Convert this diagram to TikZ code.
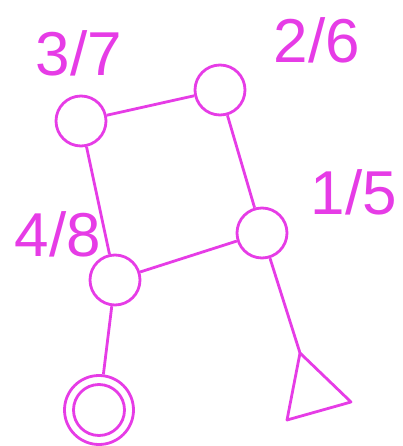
\documentclass[tikz,border=0pt]{standalone}
\usepackage{fontspec}
\setmainfont{Liberation Sans}
\definecolor{mag}{RGB}{230,60,230}
\begin{document}
\begin{tikzpicture}[x=1pt,y=-1pt,
  st/.style={circle,draw=mag,line width=2.8pt,minimum size=50pt,inner sep=0pt},
  ln/.style={draw=mag,line width=2.8pt},
  lbl/.style={text=mag,font=\fontsize{62}{62}\selectfont,inner sep=0pt}]
\useasboundingbox (0,0) rectangle (402,446);
\node[st] (s37) at (81,121) {};
\node[st] (s26) at (220,90) {};
\node[st] (s15) at (262,233) {};
\node[st] (s48) at (115,280) {};
\node[circle,draw=mag,line width=2.8pt,minimum size=69pt,inner sep=0pt] (fin) at (99,410) {};
\node[circle,draw=mag,line width=2.8pt,minimum size=51pt,inner sep=0pt] (fin2) at (99,410) {};
\coordinate (tt) at (300,353);
\coordinate (tr) at (351,402);
\coordinate (tb) at (287,420);
\draw[ln,line join=round] (tt) -- (tr) -- (tb) -- cycle;
\draw[ln] (s37) -- (s26);
\draw[ln] (s26) -- (s15);
\draw[ln] (s15) -- (s48);
\draw[ln] (s37) -- (s48);
\draw[ln] (s48) -- (fin);
\draw[ln] (s15) -- (tt);
\node[lbl] (l37) at (79,53) {3/7};
\node[lbl] (l26) at (317,40) {2/6};
\node[lbl] (l15) at (354,192) {1/5};
\node[lbl] (l48) at (58,234) {4/8};
\end{tikzpicture}
\end{document}
